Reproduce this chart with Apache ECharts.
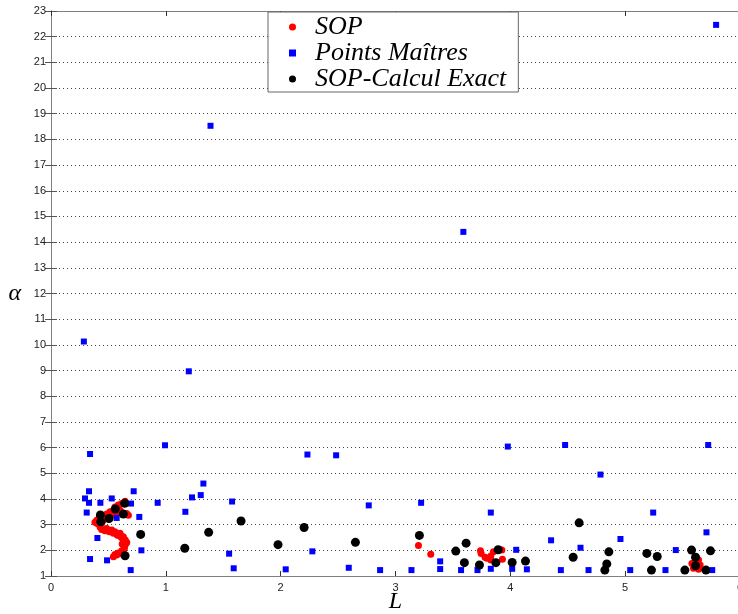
<!DOCTYPE html>
<html>
<head>
<meta charset="utf-8">
<script src="https://cdn.jsdelivr.net/npm/echarts@6/dist/echarts.min.js"></script>
<style>
  html, body { margin: 0; padding: 0; background: #fff; }
  #chart { width: 738px; height: 614px; }
</style>
</head>
<body>
<div id="chart"></div>
<script>
// axis ranges
const xRange = [0, 6];
const yRange = [1, 23];

// SOP (red)
const sop = [
  [0.645, 3.91], [0.616, 3.82], [0.586, 3.76], [0.557, 3.69], [0.543, 3.56], [0.514, 3.50],
  [0.485, 3.41], [0.450, 3.33], [0.421, 3.26], [0.398, 3.17], [0.383, 3.09], [0.412, 3.02],
  [0.427, 2.91], [0.441, 2.81], [0.470, 2.76], [0.508, 2.72], [0.543, 2.66], [0.578, 2.59],
  [0.607, 2.53], [0.624, 2.44], [0.636, 2.33], [0.645, 2.20], [0.639, 2.08], [0.616, 1.98],
  [0.586, 1.90], [0.557, 1.84], [0.543, 1.75], [0.659, 3.43], [0.674, 3.37], [0.601, 3.56],
  [0.572, 3.43], [0.456, 3.17], [0.441, 3.05], [0.485, 2.85], [0.529, 2.79], [0.557, 2.72],
  [0.601, 2.66], [0.630, 2.53], [0.647, 2.40], [0.630, 2.01], [0.572, 1.82], [0.660, 2.30],
  [0.620, 2.25], [0.600, 1.88], [0.520, 3.35], [0.400, 3.05],
  [3.200, 2.19], [3.307, 1.85],
  [3.740, 1.98], [3.746, 1.88], [3.795, 1.69], [3.830, 1.62], [3.853, 1.94], [3.830, 1.78],
  [3.926, 2.01], [3.931, 1.65], [3.780, 1.73],
  [5.610, 1.69], [5.639, 1.62], [5.581, 1.49], [5.653, 1.43], [5.595, 1.30], [5.639, 1.26],
  [5.618, 1.36], [5.624, 1.56]
];

// Points Maitres (blue)
const master = [
  [0.993, 6.09], [0.340, 5.75], [0.331, 4.30], [0.296, 4.02], [0.331, 3.85], [0.430, 3.85],
  [0.529, 4.02], [0.720, 4.30], [0.697, 3.82], [0.929, 3.85], [0.311, 3.47], [0.572, 3.26],
  [0.769, 3.30], [1.170, 3.50], [0.404, 2.48], [0.787, 2.00], [0.340, 1.66], [0.488, 1.61],
  [0.694, 1.23],
  [2.233, 5.73], [2.483, 5.70], [1.327, 4.60], [1.228, 4.06], [1.304, 4.15], [1.577, 3.90],
  [2.767, 3.75], [1.551, 1.87], [2.276, 1.96], [1.591, 1.30], [2.044, 1.26], [2.593, 1.32],
  [2.866, 1.23],
  [3.223, 3.85], [3.830, 3.47], [4.051, 2.02], [3.389, 1.57], [3.139, 1.23], [3.389, 1.27],
  [3.571, 1.23], [3.714, 1.23], [3.830, 1.28], [4.016, 1.28], [4.144, 1.26],
  [4.785, 4.95], [5.244, 3.47], [4.355, 2.39], [4.959, 2.44], [4.611, 2.10], [5.708, 2.70],
  [5.441, 2.01], [4.440, 1.23], [4.681, 1.23], [5.044, 1.23], [5.351, 1.23], [5.758, 1.23],
  [3.978, 6.04], [4.477, 6.10], [5.723, 6.10],
  [0.286, 10.13], [1.200, 8.97], [1.389, 18.53], [3.591, 14.40], [5.792, 22.46]
];

// SOP-Calcul Exact (black)
const exact = [
  [0.642, 3.83], [0.560, 3.61], [0.630, 3.41], [0.430, 3.38], [0.505, 3.24], [0.433, 3.11],
  [0.781, 2.62], [1.165, 2.08], [0.645, 1.79],
  [1.655, 3.14], [1.373, 2.70], [2.204, 2.89], [1.977, 2.22], [2.651, 2.31],
  [3.208, 2.58], [3.615, 2.28], [3.525, 1.97], [3.894, 2.02], [3.600, 1.52], [3.731, 1.43],
  [3.874, 1.52], [4.016, 1.53], [4.132, 1.58],
  [4.599, 3.07], [4.547, 1.73], [4.858, 1.94], [4.840, 1.47], [4.823, 1.23], [5.189, 1.88],
  [5.279, 1.76], [5.229, 1.23], [5.520, 1.23], [5.578, 2.01], [5.613, 1.73], [5.613, 1.40],
  [5.703, 1.23], [5.743, 1.98]
];

const names = ['SOP', 'Points Maîtres', 'SOP-Calcul Exact'];

const chart = echarts.init(document.getElementById('chart'), null, { renderer: 'canvas' });

const axisLineStyle = { color: '#7f7f7f', width: 1 };
const labelStyle = { color: '#222', fontFamily: 'Liberation Sans', fontSize: 11 };

chart.setOption({
  animation: false,
  backgroundColor: '#fff',
  grid: { left: 51, top: 11, width: 689, height: 565, containLabel: false, outerBoundsMode: 'none' },
  legend: {
    orient: 'vertical',
    left: 268,
    top: 12,
    backgroundColor: '#fff',
    borderColor: '#666',
    borderWidth: 1,
    padding: [2, 12, 0, 21],
    itemGap: 0,
    itemWidth: 7,
    itemHeight: 7,
    data: [
      { name: names[0], icon: 'circle' },
      { name: names[1], icon: 'rect' },
      { name: names[2], icon: 'circle' }
    ],
    textStyle: {
      fontFamily: 'Liberation Serif',
      fontStyle: 'italic',
      fontSize: 26,
      color: '#000',
      lineHeight: 26,
      padding: [0, 0, 0, 14]
    }
  },
  xAxis: [
    {
      type: 'value', min: xRange[0], max: xRange[1], interval: 1,
      name: 'L', nameLocation: 'middle', nameGap: 14, nameMoveOverlap: false,
      nameTextStyle: { fontFamily: 'Liberation Serif', fontStyle: 'italic', fontSize: 24, color: '#000', verticalAlign: 'top' },
      axisLine: { show: true, lineStyle: axisLineStyle },
      axisTick: { show: true, inside: true, length: 5, lineStyle: { color: '#333' } },
      axisLabel: Object.assign({ margin: 6 }, labelStyle),
      splitLine: { show: false }
    },
    {
      type: 'value', position: 'top', min: xRange[0], max: xRange[1], interval: 1,
      axisLine: { show: true, lineStyle: axisLineStyle },
      axisTick: { show: true, inside: true, length: 5, lineStyle: { color: '#333' } },
      axisLabel: { show: false },
      splitLine: { show: false }
    }
  ],
  yAxis: [
    {
      type: 'value', min: yRange[0], max: yRange[1], interval: 1,
      name: 'α', nameLocation: 'middle', nameGap: 30, nameRotate: 0, nameMoveOverlap: false,
      nameTextStyle: { fontFamily: 'Liberation Serif', fontStyle: 'italic', fontSize: 24, color: '#000' },
      axisLine: { show: true, lineStyle: axisLineStyle },
      axisTick: { show: true, inside: true, length: 6, lineStyle: { color: '#555' } },
      axisLabel: Object.assign({ margin: 5 }, labelStyle),
      splitLine: { show: true, lineStyle: { color: '#444', width: 1, type: [1, 3] } }
    },
    {
      type: 'value', position: 'right', min: yRange[0], max: yRange[1], interval: 1,
      axisLine: { show: true, lineStyle: axisLineStyle },
      axisTick: { show: true, inside: true, length: 6, lineStyle: { color: '#555' } },
      axisLabel: { show: false },
      splitLine: { show: false }
    }
  ],
  series: [
    {
      name: names[0], type: 'scatter', data: sop,
      symbol: 'circle', symbolSize: 7,
      itemStyle: { color: '#ff0000', opacity: 1 }
    },
    {
      name: names[1], type: 'scatter', data: master,
      symbol: 'rect', symbolSize: 6,
      itemStyle: { color: '#0000ff', opacity: 1 }
    },
    {
      name: names[2], type: 'scatter', data: exact,
      symbol: 'circle', symbolSize: 9,
      itemStyle: { color: '#000000', opacity: 1 }
    }
  ]
});
</script>
</body>
</html>
